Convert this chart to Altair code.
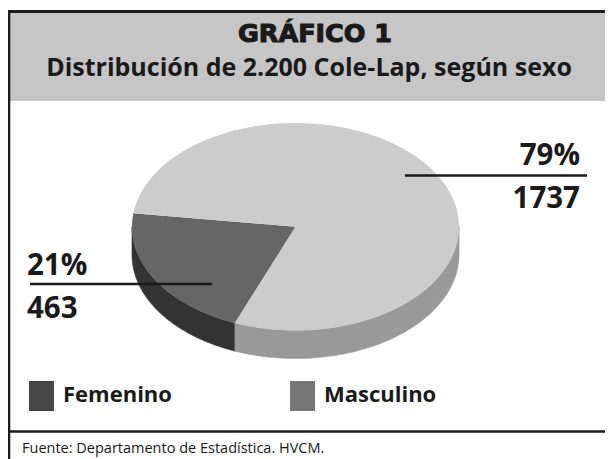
import altair as alt
import pandas as pd
import math

# ---- data ----
categorias = ["Femenino", "Masculino"]
casos = [463, 1737]
porcentajes = [21, 79]
titulo = "GRÁFICO 1"
subtitulo = "Distribución de 2.200 Cole-Lap, según sexo"
fuente = "Fuente: Departamento de Estadística. HVCM."

# ---- styles ----
color_top = ["#666666", "#cccccc"]
color_side = ["#333333", "#999999"]
color_legend = ["#474747", "#777777"]
INK = "#1a1a1a"
FONT = "Open Sans"
START = 172.5 * math.pi / 180.0
DEPTH = 0.27
W, H = 597, 451

df = pd.DataFrame({"sexo": categorias, "casos": casos, "orden": [0, 1]})
one = pd.DataFrame({"k": [0]})

xs = alt.Scale(domain=[-1, 1], range=[124, 451], nice=False, zero=False)
ys = alt.Scale(domain=[-1, 1], range=[322.5, 115], nice=False, zero=False)

base = (
    alt.Chart(df)
    .transform_joinaggregate(total="sum(casos)")
    .transform_window(cum="sum(casos)", sort=[alt.SortField("orden")], frame=[None, 0])
    .transform_calculate(
        a0=f"{START} + 2*PI*(datum.cum - datum.casos)/datum.total",
        a1=f"{START} + 2*PI*datum.cum/datum.total",
    )
)

sides = (
    base.transform_calculate(s0="max(datum.a0, PI)", s1="min(datum.a1, 2*PI)")
    .transform_filter("datum.s1 > datum.s0")
    .transform_calculate(idx="sequence(0, 81)")
    .transform_flatten(["idx"])
    .transform_calculate(
        t="datum.s0 + (datum.s1 - datum.s0)*datum.idx/80",
    )
    .transform_calculate(px="cos(datum.t)", py="sin(datum.t)", py2=f"sin(datum.t) - {DEPTH}")
    .mark_area(strokeWidth=0.6)
    .encode(
        x=alt.X("px:Q", scale=xs, axis=None),
        y=alt.Y("py:Q", scale=ys, axis=None),
        y2="py2:Q",
        color=alt.Color("sexo:N", scale=alt.Scale(domain=categorias, range=color_side), legend=None),
        stroke=alt.Stroke("sexo:N", scale=alt.Scale(domain=categorias, range=color_side), legend=None),
        detail="sexo:N",
    )
)

tops = (
    base.transform_calculate(idx="sequence(0, 161)")
    .transform_flatten(["idx"])
    .transform_calculate(t="datum.a0 + (datum.a1 - datum.a0)*(datum.idx - 1)/159")
    .transform_calculate(
        px="datum.idx == 0 ? 0 : cos(datum.t)",
        py="datum.idx == 0 ? 0 : sin(datum.t)",
    )
    .mark_line(filled=True)
    .encode(
        x=alt.X("px:Q", scale=xs, axis=None),
        y=alt.Y("py:Q", scale=ys, axis=None),
        order="idx:Q",
        fill=alt.Fill("sexo:N", scale=alt.Scale(domain=categorias, range=color_top), legend=None),
        detail="sexo:N",
    )
)

def rule(x, x2, y, y2=None, w=2, color=INK):
    enc = dict(x=alt.value(x), y=alt.value(y))
    if x2 is not None:
        enc["x2"] = alt.value(x2)
    if y2 is not None:
        enc["y2"] = alt.value(y2)
    return alt.Chart(one).mark_rule(color=color, strokeWidth=w).encode(**enc)

def text(s, x, y, size, weight="bold", align="left", font=FONT, stroke_w=0):
    kw = dict(font=font, fontSize=size, fontWeight=weight, align=align,
              baseline="alphabetic", color=INK)
    if stroke_w:
        kw.update(stroke=INK, strokeWidth=stroke_w)
    return (
        alt.Chart(pd.DataFrame({"t": [s]}))
        .mark_text(**kw)
        .encode(text="t:N", x=alt.value(x), y=alt.value(y))
    )

band = alt.Chart(one).mark_rect(color="#c6c6c6").encode(
    x=alt.value(2), x2=alt.value(W), y=alt.value(5), y2=alt.value(93)
)

layers = [
    band,
    rule(0, W, 3.5, w=3),
    rule(0.8, None, 2, H, w=3),
    rule(0, W, 423.5, w=2.5),
    text(titulo, 307, 34, 25.5, weight="bold", align="center", font="DejaVu Sans", stroke_w=1.1),
    text(subtitulo, 301, 68, 25, align="center"),
    sides,
    tops,
    rule(397, 579, 167.5, w=2.5),
    rule(22, 204, 276, w=2.5),
    text(f"{porcentajes[1]}%", 572, 157, 29.5, align="right"),
    text(f"{casos[1]}", 572, 200, 29.5, align="right"),
    text(f"{porcentajes[0]}%", 19, 267, 29.5),
    text(f"{casos[0]}", 19, 310, 29.5),
]

legend_x = [21, 282]
for i, cat in enumerate(categorias):
    layers.append(
        alt.Chart(one).mark_rect(color=color_legend[i]).encode(
            x=alt.value(legend_x[i]), x2=alt.value(legend_x[i] + 25),
            y=alt.value(373), y2=alt.value(403)
        )
    )
    layers.append(text(cat, legend_x[i] + 34, 394, 22))

layers.append(text(fuente, 14, 445, 14.5, weight="normal"))

chart = (
    alt.layer(*layers)
    .resolve_scale(color="independent", fill="independent", stroke="independent")
    .properties(width=W, height=H, autosize=alt.AutoSizeParams(type="none"), padding=0,
                background="white")
    .configure_view(stroke=None)
)

chart.save("out.html", embed_options={"renderer": "svg", "actions": False})
